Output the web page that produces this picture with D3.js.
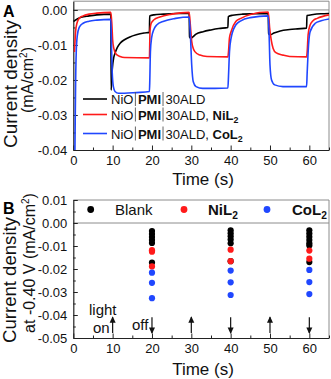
<!DOCTYPE html>
<html>
<head>
<meta charset="utf-8">
<script src="https://cdn.jsdelivr.net/npm/d3@7"></script>
<style>
  body { margin: 0; background: #fff; }
  svg { display: block; font-family: Arial, "Liberation Sans", sans-serif; }
</style>
</head>
<body>
<div id="chart"></div>
<script>
// ---- data ----
// panel A: photocurrent transients, [time (s), current density (mA/cm2)]
var blankCurve = [
  [0, -0.0033], [1, -0.0026], [2, -0.0021], [4, -0.0017], [6, -0.0014], [9.55, -0.0012],
  [9.62, -0.0229], [9.9, -0.017], [10.3, -0.0135], [10.6, -0.0124], [11.2, -0.0107], [11.9, -0.0095],
  [13, -0.0085], [14.4, -0.0077], [16, -0.0071], [18, -0.0066], [19.35, -0.0064],
  [19.42, -0.0017], [20.5, -0.0014], [23, -0.0012], [26, -0.001], [29.45, -0.0009],
  [29.55, -0.0077], [29.9, -0.0081], [30.4, -0.0077], [31.2, -0.0069], [33, -0.0062], [35, -0.0057],
  [37, -0.0053], [39.3, -0.005],
  [39.4, -0.0019], [40.5, -0.0015], [43, -0.0012], [46, -0.0011], [49.55, -0.001],
  [49.65, -0.0068], [50, -0.0071], [51, -0.0066], [52.6, -0.006], [55, -0.0056], [57, -0.0054], [59.3, -0.0052],
  [59.4, -0.0016], [61, -0.0013], [63, -0.0011], [65, -0.001]
];
var nickelCurve = [
  [0.3, -0.012], [0.6, -0.006], [1, -0.0035], [1.5, -0.0024], [2.5, -0.0017], [4, -0.0012], [6, -0.0009], [9.55, -0.0007],
  [9.8, -0.004], [10, -0.0085], [10.3, -0.011], [10.8, -0.0125], [11.9, -0.0133], [13, -0.0136], [19.35, -0.0137],
  [19.5, -0.006], [19.8, -0.0038], [20.5, -0.0028], [22, -0.002], [25, -0.0012], [29.45, -0.0007],
  [29.8, -0.005], [30.1, -0.009], [30.5, -0.011], [30.9, -0.0119], [32.2, -0.0129], [34, -0.0133], [39.3, -0.0134],
  [39.45, -0.012], [39.7, -0.008], [40.1, -0.0062], [41.3, -0.0033], [42.6, -0.0024], [45, -0.0013], [49.55, -0.0006],
  [49.9, -0.005], [50.3, -0.0085], [50.8, -0.011], [51.5, -0.0122], [53.3, -0.0129], [55, -0.0133], [59.3, -0.0134],
  [59.45, -0.012], [59.7, -0.007], [60.2, -0.0043], [61, -0.003], [62, -0.0024], [65, -0.0014]
];
var cobaltCurve = [
  [0.4, -0.042], [0.5, -0.03], [0.6, -0.02], [0.75, -0.012], [1, -0.0075], [1.5, -0.005], [2.5, -0.0038],
  [4, -0.0032], [6, -0.0029], [9.55, -0.0027],
  [9.75, -0.012], [9.9, -0.018], [10.2, -0.022], [10.6, -0.0233], [11.5, -0.0238], [13, -0.0238], [16, -0.0236], [19.35, -0.0233],
  [19.45, -0.02], [19.6, -0.012], [19.9, -0.008], [20.5, -0.0055], [21.2, -0.0043], [23, -0.0032], [26, -0.0024], [29.45, -0.002],
  [29.8, -0.008], [30.1, -0.0157], [30.5, -0.0205], [31.2, -0.0219], [32.9, -0.0224], [36, -0.0224], [39.3, -0.0223],
  [39.45, -0.019], [39.7, -0.012], [40.1, -0.0081], [41.3, -0.0043], [42.6, -0.0031], [45, -0.0022], [49.55, -0.0017],
  [49.8, -0.008], [50, -0.0157], [50.4, -0.02], [51.2, -0.0214], [53.3, -0.0219], [59.3, -0.0219],
  [59.45, -0.018], [59.8, -0.01], [60.2, -0.0062], [61.5, -0.0038], [63, -0.0031], [65, -0.0026]
];

// panel B: current density sampled at -0.40 V
var sampleTimes = [20, 40, 60];
var blankPoints = [
  [-0.0035, -0.0048, -0.0061, -0.0074, -0.0087, -0.0172],
  [-0.0032, -0.0045, -0.0058, -0.0072, -0.0088, -0.0166],
  [-0.0032, -0.0046, -0.006, -0.0074, -0.0088, -0.0098, -0.017]
];
var nickelPoints = [
  [-0.0118, -0.0125, -0.0189],
  [-0.0116, -0.0166],
  [-0.012, -0.0155]
];
var cobaltPoints = [
  [-0.0216, -0.026, -0.0327],
  [-0.0207, -0.0258, -0.0313],
  [-0.0204, -0.0257, -0.0309]
];
var arrowTimes = [10, 20, 30, 40, 50, 60];
var arrowDirs = ["up", "down", "up", "down", "up", "down"];

var xTicks = [0, 10, 20, 30, 40, 50, 60];
var yTicksA = [0, -0.01, -0.02, -0.03, -0.04];
var yTicksB = [0.01, 0, -0.01, -0.02, -0.03, -0.04, -0.05];

var colors = {blank: "#000000", nickel: "#ff1a1a", cobalt: "#2047ff"};

// ---- page ----
var width = 331, height = 379;
var svg = d3.select("#chart").append("svg")
  .attr("width", width)
  .attr("height", height);

var x = d3.scaleLinear().domain([0, 65]).range([73.3, 329]);
var yA = d3.scaleLinear().domain([-0.04, 0.0025]).range([150, 1.2]);
var yB = d3.scaleLinear().domain([-0.05, 0.01]).range([338, 200]);

var fmt = function(d) { return d3.format(".2f")(d).replace("−", "-"); };

function drawFrame(y, yTicks, yMinor) {
  var g = svg.append("g");
  var x0 = x.range()[0], x1 = x.range()[1];
  var yBot = y.range()[0], yTop = y.range()[1];

  // top / right frame and zero line (grey)
  g.append("line").attr("x1", x0).attr("x2", x1).attr("y1", yTop).attr("y2", yTop)
    .attr("stroke", "#8c8c8c").attr("stroke-width", 1);
  g.append("line").attr("x1", x1).attr("x2", x1).attr("y1", yTop).attr("y2", yBot)
    .attr("stroke", "#8c8c8c").attr("stroke-width", 1);
  g.append("line").attr("x1", x0).attr("x2", x1).attr("y1", y(0)).attr("y2", y(0))
    .attr("stroke", "#8c8c8c").attr("stroke-width", 1);

  // X axis
  g.append("g")
    .attr("transform", "translate(0," + yBot + ")")
    .call(d3.axisBottom(x).tickValues(xTicks).tickSizeInner(-4.5).tickSizeOuter(0).tickPadding(6));
  g.append("g")
    .attr("transform", "translate(0," + yBot + ")")
    .call(d3.axisBottom(x).tickValues([5, 15, 25, 35, 45, 55, 65]).tickSize(-2.5).tickFormat(""))
    .select(".domain").remove();

  // Y axis
  g.append("g")
    .attr("transform", "translate(" + x0 + ",0)")
    .call(d3.axisLeft(y).tickValues(yTicks).tickSizeInner(-4.5).tickSizeOuter(0).tickPadding(6).tickFormat(fmt));
  g.append("g")
    .attr("transform", "translate(" + x0 + ",0)")
    .call(d3.axisLeft(y).tickValues(yMinor).tickSize(-2.5).tickFormat(""))
    .select(".domain").remove();

  g.selectAll(".domain").attr("stroke", "#222").attr("stroke-width", 1.2);
  g.selectAll(".tick line").attr("stroke", "#222");
  g.selectAll(".tick text")
    .attr("font-size", "13px")
    .attr("font-family", "Arial, 'Liberation Sans', sans-serif")
    .attr("fill", "#111");
  return g;
}

// write a row of text pieces, measuring as we go
function textRow(g, x0, y0, parts, size) {
  var cx = x0;
  parts.forEach(function(p) {
    if (p.bar) {
      g.append("line")
        .attr("x1", cx + 2).attr("x2", cx + 2)
        .attr("y1", y0 - 12).attr("y2", y0 + 2)
        .attr("stroke", "#555").attr("stroke-width", 0.9);
      cx += 4.5;
      return;
    }
    var fs = p.sub ? size * 0.68 : size;
    var t = g.append("text")
      .attr("x", cx)
      .attr("y", y0 + (p.sub ? 3.5 : 0))
      .attr("font-size", fs + "px")
      .attr("font-weight", p.b ? "bold" : "normal")
      .attr("fill", "#111")
      .attr("xml:space", "preserve")
      .text(p.t);
    cx += t.node().getComputedTextLength();
  });
}

// ---------- panel A ----------
drawFrame(yA, yTicksA, [-0.005, -0.015, -0.025, -0.035]);

svg.append("clipPath").attr("id", "clipA")
  .append("rect")
  .attr("x", x.range()[0]).attr("y", yA.range()[1])
  .attr("width", x.range()[1] - x.range()[0])
  .attr("height", yA.range()[0] - yA.range()[1]);

var line = d3.line()
  .x(function(d) { return x(d[0]); })
  .y(function(d) { return yA(d[1]); })
  .curve(d3.curveMonotoneX);

var curves = [
  {data: blankCurve, color: colors.blank},
  {data: nickelCurve, color: colors.nickel},
  {data: cobaltCurve, color: colors.cobalt}
];
svg.append("g").attr("clip-path", "url(#clipA)")
  .selectAll("path")
  .data(curves)
  .enter()
  .append("path")
    .attr("d", function(d) { return line(d.data); })
    .attr("fill", "none")
    .attr("stroke", function(d) { return d.color; })
    .attr("stroke-width", 1.6)
    .attr("stroke-linejoin", "round");

// legend A
var legA = svg.append("g");
var legRows = [
  {color: colors.blank, y: 99, parts: [{t: "NiO"}, {bar: true}, {t: "PMI", b: true}, {bar: true}, {t: "30ALD"}]},
  {color: colors.nickel, y: 114.5, parts: [{t: "NiO"}, {bar: true}, {t: "PMI", b: true}, {bar: true}, {t: "30ALD, "}, {t: "NiL", b: true}, {t: "2", b: true, sub: true}]},
  {color: colors.cobalt, y: 133.5, parts: [{t: "NiO"}, {bar: true}, {t: "PMI", b: true}, {bar: true}, {t: "30ALD, "}, {t: "CoL", b: true}, {t: "2", b: true, sub: true}]}
];
legRows.forEach(function(r) {
  legA.append("line")
    .attr("x1", 83).attr("x2", 107)
    .attr("y1", r.y).attr("y2", r.y)
    .attr("stroke", r.color).attr("stroke-width", 1.6);
  textRow(legA, 111, r.y + 5, r.parts, 13);
});

// panel letter + titles
svg.append("text").attr("x", 3).attr("y", 16.5)
  .attr("font-size", "16px").attr("font-weight", "bold").text("A");

svg.append("text")
  .attr("x", 203).attr("y", 185)
  .attr("text-anchor", "middle").attr("font-size", "17px").attr("fill", "#111")
  .text("Time (s)");

svg.append("text")
  .attr("transform", "translate(16.5,84) rotate(-90)")
  .attr("text-anchor", "middle").attr("font-size", "17.5px").attr("fill", "#111")
  .attr("textLength", 128).attr("lengthAdjust", "spacingAndGlyphs")
  .text("Current density");
var unitA = svg.append("text")
  .attr("transform", "translate(33,80) rotate(-90)")
  .attr("text-anchor", "middle").attr("font-size", "16px").attr("fill", "#111");
unitA.append("tspan").text("(mA/cm");
unitA.append("tspan").attr("font-size", "10px").attr("dy", -6).text("2");
unitA.append("tspan").attr("dy", 6).text(")");

// ---------- panel B ----------
drawFrame(yB, yTicksB, [0.005, -0.005, -0.015, -0.025, -0.035, -0.045]);

function dots(points, color) {
  var flat = [];
  points.forEach(function(vals, i) {
    vals.forEach(function(v) { flat.push({t: sampleTimes[i], v: v}); });
  });
  svg.append("g")
    .selectAll("circle")
    .data(flat)
    .enter()
    .append("circle")
      .attr("cx", function(d) { return x(d.t); })
      .attr("cy", function(d) { return yB(d.v); })
      .attr("r", 3.1)
      .attr("fill", color);
}
dots(blankPoints, colors.blank);
dots(nickelPoints, colors.nickel);
dots(cobaltPoints, colors.cobalt);

// legend B
var legB = svg.append("g");
var legItems = [
  {color: colors.blank, cx: 90.7, tx: 115, parts: [{t: "Blank"}]},
  {color: colors.nickel, cx: 184, tx: 208, parts: [{t: "NiL", b: true}, {t: "2", b: true, sub: true}]},
  {color: colors.cobalt, cx: 267, tx: 292, parts: [{t: "CoL", b: true}, {t: "2", b: true, sub: true}]}
];
legItems.forEach(function(d) {
  legB.append("circle").attr("cx", d.cx).attr("cy", 209.5).attr("r", 3.4).attr("fill", d.color);
  textRow(legB, d.tx, 215, d.parts, 15);
});

// light on / off arrows
var arrowG = svg.append("g");
arrowTimes.forEach(function(t, i) {
  var top = yB(-0.041), bot = yB(-0.0478);
  var xp = x(t);
  arrowG.append("line")
    .attr("x1", xp).attr("x2", xp)
    .attr("y1", top).attr("y2", bot)
    .attr("stroke", "#111").attr("stroke-width", 1.2);
  var tip = arrowDirs[i] == "up" ? top : bot;
  var s = arrowDirs[i] == "up" ? 1 : -1;
  arrowG.append("path")
    .attr("d", "M" + xp + "," + (tip - s) + "L" + (xp - 3) + "," + (tip + s * 5.5) + "L" + (xp + 3) + "," + (tip + s * 5.5) + "Z")
    .attr("fill", "#111");
});
arrowG.append("text").attr("x", 89).attr("y", 315).attr("font-size", "15px").attr("fill", "#111").text("light");
arrowG.append("text").attr("x", 93).attr("y", 333).attr("font-size", "15px").attr("fill", "#111").text("on");
arrowG.append("text").attr("x", 132).attr("y", 330).attr("font-size", "15px").attr("fill", "#111").text("off");

svg.append("text").attr("x", 3).attr("y", 213.5)
  .attr("font-size", "16px").attr("font-weight", "bold").text("B");

svg.append("text")
  .attr("x", 203).attr("y", 375)
  .attr("text-anchor", "middle").attr("font-size", "17px").attr("fill", "#111")
  .text("Time (s)");

svg.append("text")
  .attr("transform", "translate(16,280) rotate(-90)")
  .attr("text-anchor", "middle").attr("font-size", "17.5px").attr("fill", "#111")
  .attr("textLength", 126).attr("lengthAdjust", "spacingAndGlyphs")
  .text("Current density");
var unitB = svg.append("text")
  .attr("transform", "translate(35,263) rotate(-90)")
  .attr("text-anchor", "middle").attr("font-size", "16px").attr("fill", "#111");
unitB.append("tspan").text("at -0.40 V (mA/cm");
unitB.append("tspan").attr("font-size", "10px").attr("dy", -6).text("2");
unitB.append("tspan").attr("dy", 6).text(")");
</script>
</body>
</html>
